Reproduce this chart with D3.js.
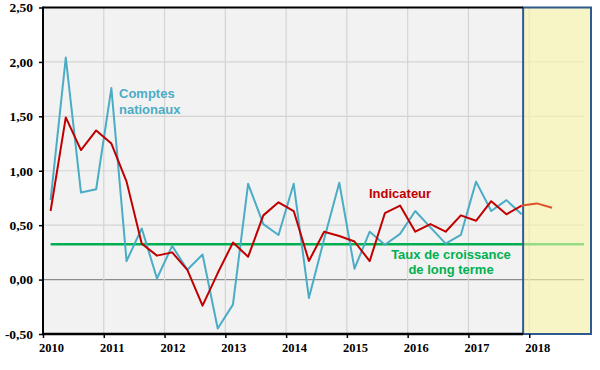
<!DOCTYPE html>
<html>
<head>
<meta charset="utf-8">
<script src="https://cdn.jsdelivr.net/npm/d3@7"></script>
<style>
  html, body { margin: 0; padding: 0; background: #ffffff; }
  svg { display: block; }
</style>
</head>
<body>
<svg id="chart" width="600" height="370"></svg>
<script>
// ---- Data ----
const periods = [
  "2010T1","2010T2","2010T3","2010T4",
  "2011T1","2011T2","2011T3","2011T4",
  "2012T1","2012T2","2012T3","2012T4",
  "2013T1","2013T2","2013T3","2013T4",
  "2014T1","2014T2","2014T3","2014T4",
  "2015T1","2015T2","2015T3","2015T4",
  "2016T1","2016T2","2016T3","2016T4",
  "2017T1","2017T2","2017T3","2017T4"
];
const comptesNationaux = [
  0.73, 2.04, 0.80, 0.83,
  1.76, 0.17, 0.47, 0.01,
  0.31, 0.09, 0.23, -0.45,
  -0.23, 0.88, 0.51, 0.41,
  0.88, -0.17, 0.37, 0.89,
  0.10, 0.44, 0.32, 0.42,
  0.63, 0.48, 0.33, 0.41,
  0.90, 0.63, 0.73, 0.60
];
const indicateur = [
  0.63, 1.49, 1.19, 1.37,
  1.25, 0.90, 0.33, 0.22,
  0.25, 0.09, -0.24, 0.06,
  0.34, 0.21, 0.59, 0.71,
  0.63, 0.17, 0.44, 0.40,
  0.35, 0.17, 0.61, 0.68,
  0.44, 0.51, 0.44, 0.59,
  0.54, 0.72, 0.60, 0.68
];
const previsionPeriods = ["2017T4","2018T1","2018T2"];
const prevision = [0.68, 0.70, 0.66];
const tauxLongTerme = 0.325;
const years = [2010, 2011, 2012, 2013, 2014, 2015, 2016, 2017, 2018];
const yTicks = [-0.5, 0, 0.5, 1, 1.5, 2, 2.5];
const forecastStart = "2017T4";

// ---- Helpers ----
function periodToTime(p) {
  const y = +p.slice(0, 4), q = +p.slice(5);
  return y + (q - 1) / 4 + 0.125;
}
const fmt = v => d3.format(".2f")(v).replace(".", ",").replace("−", "-");

// ---- Scales ----
const x = d3.scaleLinear().domain([2010, 2019]).range([43, 590]);
const y = d3.scaleLinear().domain([-0.5, 2.5]).range([334, 7.5]);
const plotRight = 584;

const svg = d3.select("#chart");

// Plot background
svg.append("rect").attr("x", x(2010)).attr("y", y(2.5))
  .attr("width", x(2019) - x(2010)).attr("height", y(-0.5) - y(2.5))
  .attr("fill", "#f2f2f2");

// Horizontal gridlines
svg.append("g").selectAll("line").data(yTicks.filter(d => d !== 2.5 && d !== -0.5)).join("line")
  .attr("x1", x(2010)).attr("x2", plotRight)
  .attr("y1", d => y(d)).attr("y2", d => y(d))
  .attr("stroke", d => d === 0 ? "#8c8c8c" : "#d4d4d4")
  .attr("stroke-width", 1.2);

// Vertical gridlines
svg.append("g").selectAll("line").data(years.filter(d => d > 2010)).join("line")
  .attr("x1", d => x(d)).attr("x2", d => x(d))
  .attr("y1", y(2.5)).attr("y2", y(-0.5))
  .attr("stroke", "#d4d4d4").attr("stroke-width", 1.2);

// Long-term growth line
svg.append("line")
  .attr("x1", x(periodToTime("2010T1"))).attr("x2", plotRight)
  .attr("y1", y(tauxLongTerme)).attr("y2", y(tauxLongTerme))
  .attr("stroke", "#00b050").attr("stroke-width", 2.5);

const line = d3.line().x(d => x(d.t)).y(d => y(d.v));

// Comptes nationaux
svg.append("path")
  .datum(periods.map((p, i) => ({ t: periodToTime(p), v: comptesNationaux[i] })))
  .attr("d", line).attr("fill", "none")
  .attr("stroke", "#4bacc6").attr("stroke-width", 2).attr("stroke-linejoin", "round");

// Indicateur
svg.append("path")
  .datum(periods.map((p, i) => ({ t: periodToTime(p), v: indicateur[i] })))
  .attr("d", line).attr("fill", "none")
  .attr("stroke", "#c00000").attr("stroke-width", 2).attr("stroke-linejoin", "round");

// Forecast box (semi-transparent yellow)
const bx = x(periodToTime(forecastStart)) + 1.5;
svg.append("rect")
  .attr("x", bx).attr("y", y(2.5))
  .attr("width", 591 - bx).attr("height", y(-0.5) - y(2.5))
  .attr("fill", "#faf7a8").attr("fill-opacity", 0.6)
  .attr("stroke", "#2f5a8f").attr("stroke-width", 2);

// Forecast line
svg.append("path")
  .datum(previsionPeriods.map((p, i) => ({ t: periodToTime(p), v: prevision[i] })))
  .attr("d", line).attr("fill", "none")
  .attr("stroke", "#e0502a").attr("stroke-width", 2).attr("stroke-linejoin", "round");

// Axes frame lines
svg.append("line").attr("x1", x(2010)).attr("x2", bx).attr("y1", y(2.5)).attr("y2", y(2.5))
  .attr("stroke", "#000").attr("stroke-width", 2);
svg.append("line").attr("x1", x(2010)).attr("x2", x(2010)).attr("y1", y(2.5) - 1).attr("y2", y(-0.5) + 1)
  .attr("stroke", "#000").attr("stroke-width", 2);
svg.append("line").attr("x1", x(2010) - 1).attr("x2", bx).attr("y1", y(-0.5)).attr("y2", y(-0.5))
  .attr("stroke", "#000").attr("stroke-width", 2.5);

// Y axis ticks and labels
const yAxis = d3.axisLeft(y).tickValues(yTicks).tickSize(4).tickPadding(8).tickFormat(fmt);
const gy = svg.append("g").attr("transform", `translate(${x(2010)},0)`).call(yAxis);
gy.select(".domain").remove();
gy.selectAll(".tick line").attr("stroke", "#000").attr("stroke-width", 1.5);
gy.selectAll(".tick text")
  .attr("font-family", "'Liberation Serif', 'Times New Roman', serif")
  .attr("font-weight", "bold").attr("font-size", 13.5).attr("fill", "#000")
  .attr("x", -10);

// X axis ticks and labels
const xAxis = d3.axisBottom(x).tickValues(years).tickSize(4).tickPadding(5).tickFormat(d3.format("d"));
const gx = svg.append("g").attr("transform", `translate(0,${y(-0.5)})`).call(xAxis);
gx.select(".domain").remove();
gx.selectAll(".tick line").attr("stroke", "#000").attr("stroke-width", 1.5);
gx.selectAll(".tick text")
  .attr("font-family", "'Liberation Serif', 'Times New Roman', serif")
  .attr("font-weight", "bold").attr("font-size", 12.5).attr("fill", "#000")
  .attr("x", 8).attr("dy", "0.75em");

// Annotations
const ann = svg.append("g").attr("font-family", "'Liberation Sans', Arial, sans-serif")
  .attr("font-weight", "bold").attr("font-size", 13);
ann.append("text").attr("x", 119).attr("y", 98).attr("fill", "#4bacc6").text("Comptes");
ann.append("text").attr("x", 119).attr("y", 114).attr("fill", "#4bacc6").text("nationaux");
ann.append("text").attr("x", 369).attr("y", 198).attr("fill", "#c00000").text("Indicateur");
ann.append("text").attr("x", 451).attr("y", 259).attr("text-anchor", "middle").attr("fill", "#00b050").text("Taux de croissance");
ann.append("text").attr("x", 451).attr("y", 274).attr("text-anchor", "middle").attr("fill", "#00b050").text("de long terme");
</script>
</body>
</html>
